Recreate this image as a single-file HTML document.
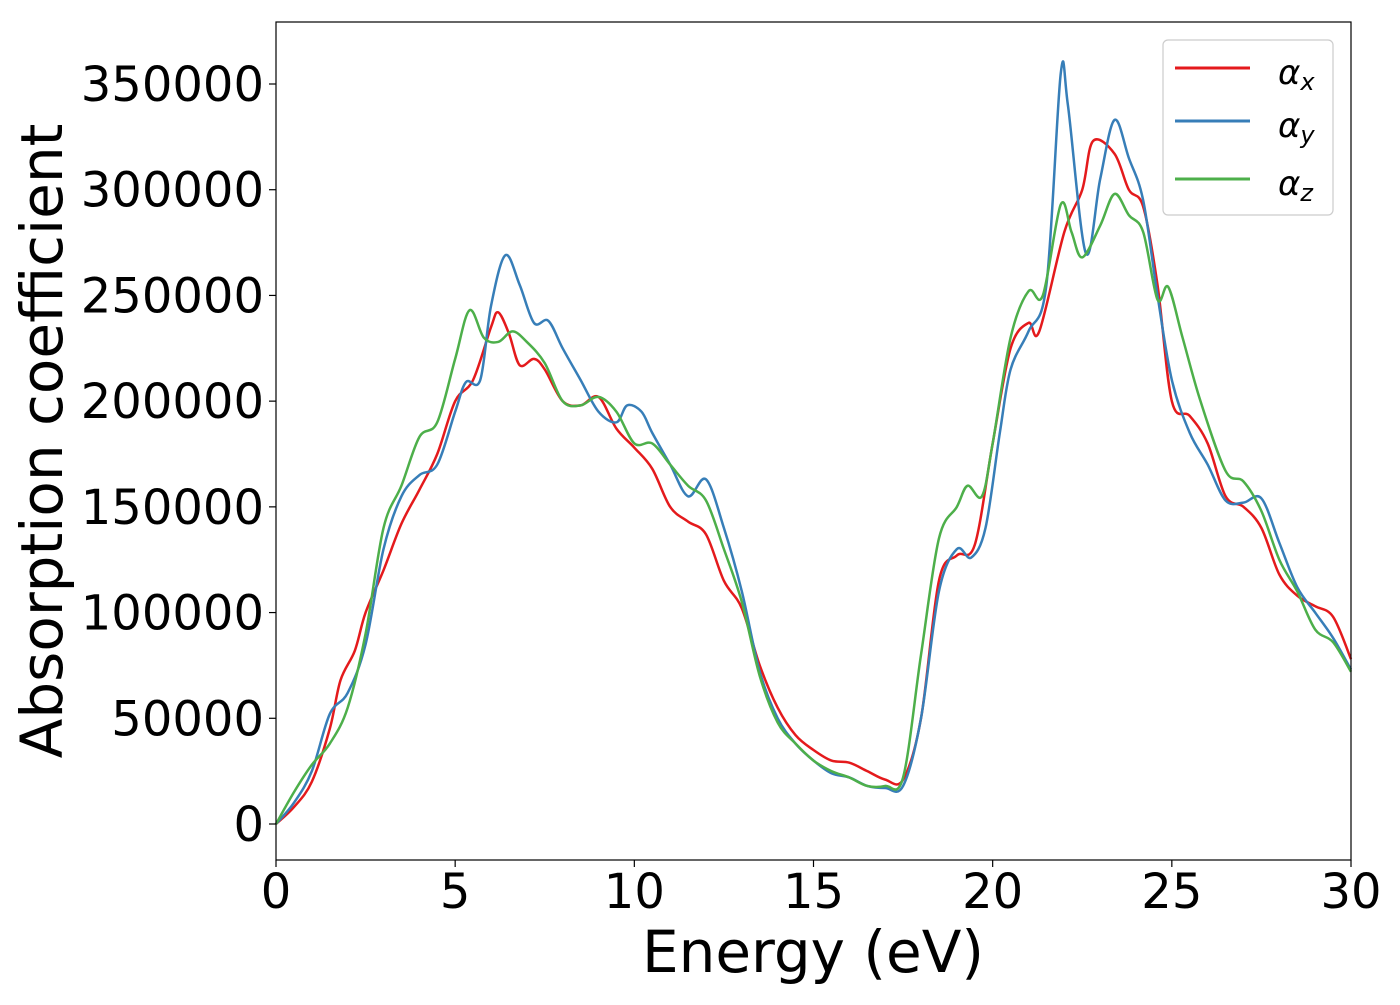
<!DOCTYPE html>
<html><head><meta charset="utf-8"><style>
body{margin:0;background:#fff;}
svg text{font-family:"DejaVu Sans","Liberation Sans",sans-serif;}
</style></head><body>
<svg id="chart" width="1400" height="1000" xmlns="http://www.w3.org/2000/svg">
<rect width="1400" height="1000" fill="#fff"/>
<g id="series"></g>
<g id="axes"></g>
<rect x="276" y="22" width="1075" height="838" fill="none" stroke="#000" stroke-width="1.2"/>
<g>
<rect x="1163" y="40" width="170" height="175" rx="5" fill="#fff" stroke="#ccc" stroke-width="1.2"/>
<line x1="1175" y1="68" x2="1250" y2="68" stroke="#e41a1c" stroke-width="3"/>
<line x1="1175" y1="121" x2="1250" y2="121" stroke="#377eb8" stroke-width="3"/>
<line x1="1175" y1="179" x2="1250" y2="179" stroke="#4daf4a" stroke-width="3"/>
<text x="1278" y="84" font-size="34" font-style="italic">α<tspan font-size="24" dy="6">x</tspan></text>
<text x="1278" y="137" font-size="34" font-style="italic">α<tspan font-size="24" dy="6">y</tspan></text>
<text x="1278" y="195" font-size="34" font-style="italic">α<tspan font-size="24" dy="6">z</tspan></text>
</g>
<text x="813" y="972" font-size="58" text-anchor="middle">Energy (eV)</text>
<text transform="translate(62,441) rotate(-90)" font-size="58" text-anchor="middle">Absorption coefficient</text>
</svg>
<script>
const xTicks=[0,5,10,15,20,25,30];
const yTicks=[0,50000,100000,150000,200000,250000,300000,350000];
const alphaX=[[0,0],[0.5,8000],[1,20000],[1.5,45000],[1.8,68000],[2.2,82000],[2.5,100000],[3,120000],[3.5,142000],[4,158000],[4.5,175000],[5,200000],[5.5,210000],[6,235000],[6.2,242000],[6.5,232000],[6.8,217000],[7.2,220000],[7.5,215000],[8,200000],[8.5,198000],[9,202000],[9.5,187000],[10,178000],[10.5,168000],[11,150000],[11.5,143000],[12,137000],[12.5,115000],[13,102000],[13.5,75000],[14,55000],[14.5,42000],[15,35000],[15.5,30000],[16,29000],[16.5,25000],[17,21000],[17.5,21000],[18,50000],[18.5,115000],[19,127000],[19.5,132000],[20,180000],[20.5,225000],[21,237000],[21.3,233000],[22,280000],[22.5,300000],[22.8,323000],[23.4,317000],[23.8,300000],[24.2,292000],[24.6,255000],[25,200000],[25.5,193000],[26,180000],[26.5,155000],[27,150000],[27.5,140000],[28,118000],[28.5,108000],[29,103000],[29.5,98000],[30,78000]];
const alphaY=[[0,0],[0.5,10000],[1,25000],[1.5,52000],[2,62000],[2.5,85000],[3,130000],[3.5,155000],[4,165000],[4.5,170000],[5,195000],[5.3,209000],[5.7,210000],[6,245000],[6.4,269000],[6.8,255000],[7.2,237000],[7.6,238000],[8,225000],[8.5,210000],[9,195000],[9.5,190000],[9.8,198000],[10.2,195000],[10.5,185000],[11,170000],[11.5,155000],[12,163000],[12.5,140000],[13,110000],[13.5,72000],[14,50000],[14.5,38000],[15,30000],[15.5,24000],[16,22000],[16.5,18000],[17,17000],[17.5,18000],[18,50000],[18.5,110000],[19,130000],[19.4,126000],[19.8,140000],[20.2,185000],[20.5,215000],[21,233000],[21.5,255000],[21.9,355000],[22.1,340000],[22.6,270000],[23,305000],[23.4,333000],[23.8,315000],[24.2,295000],[24.6,250000],[25,210000],[25.5,185000],[26,170000],[26.5,153000],[27,152000],[27.5,154000],[28,133000],[28.5,112000],[29,100000],[29.5,88000],[30,73000]];
const alphaZ=[[0,0],[0.5,15000],[1,28000],[1.5,38000],[2,55000],[2.5,90000],[3,140000],[3.5,160000],[4,183000],[4.5,190000],[5,220000],[5.4,243000],[5.8,230000],[6.2,228000],[6.6,233000],[7,228000],[7.5,218000],[8,200000],[8.5,198000],[9,202000],[9.5,195000],[10,180000],[10.5,180000],[11,170000],[11.5,160000],[12,153000],[12.5,130000],[13,105000],[13.5,70000],[14,48000],[14.5,38000],[15,30000],[15.5,25000],[16,22000],[16.5,18000],[17,18000],[17.5,22000],[18,80000],[18.5,135000],[19,150000],[19.3,160000],[19.7,155000],[20,180000],[20.5,230000],[21,252000],[21.4,250000],[21.9,293000],[22.2,280000],[22.5,268000],[23,283000],[23.4,298000],[23.8,288000],[24.2,280000],[24.6,248000],[24.9,254000],[25.3,230000],[25.8,200000],[26.5,167000],[27,162000],[27.5,148000],[28,125000],[28.5,110000],[29,92000],[29.5,86000],[30,72000]];

const NS="http://www.w3.org/2000/svg";
function xs(v){return 276+v*(1075/30);}
function ys(v){return 824-v*(740/350000);}
function pathFor(d){
  const p=d.map(a=>[xs(a[0]),ys(a[1])]);
  let s="M"+p[0][0]+","+p[0][1];
  for(let i=0;i<p.length-1;i++){
    const p0=p[i-1]||p[i],p1=p[i],p2=p[i+1],p3=p[i+2]||p2;
    const c1x=p1[0]+(p2[0]-p0[0])/6,c1y=p1[1]+(p2[1]-p0[1])/6;
    const c2x=p2[0]-(p3[0]-p1[0])/6,c2y=p2[1]-(p3[1]-p1[1])/6;
    s+=" C"+c1x+","+c1y+" "+c2x+","+c2y+" "+p2[0]+","+p2[1];
  }
  return s;
}
const sg=document.getElementById("series");
[[alphaX,"#e41a1c","series-alpha-x"],[alphaY,"#377eb8","series-alpha-y"],[alphaZ,"#4daf4a","series-alpha-z"]].forEach(s=>{
  const el=document.createElementNS(NS,"path");
  el.setAttribute("d",pathFor(s[0]));
  el.setAttribute("fill","none");
  el.setAttribute("stroke",s[1]);
  el.setAttribute("stroke-width","2.5");
  
  
  sg.appendChild(el);
});
const ag=document.getElementById("axes");
xTicks.forEach(t=>{
  const l=document.createElementNS(NS,"line");
  l.setAttribute("x1",xs(t));l.setAttribute("x2",xs(t));l.setAttribute("y1",860);l.setAttribute("y2",867);
  l.setAttribute("stroke","#000");l.setAttribute("stroke-width","1.2");
  
  
  ag.appendChild(l);
  const tx=document.createElementNS(NS,"text");
  tx.setAttribute("x",xs(t));tx.setAttribute("y",908);tx.setAttribute("font-size","48");tx.setAttribute("text-anchor","middle");
  tx.textContent=t;
  
  
  ag.appendChild(tx);
});
yTicks.forEach(t=>{
  const l=document.createElementNS(NS,"line");
  l.setAttribute("x1",269);l.setAttribute("x2",276);l.setAttribute("y1",ys(t));l.setAttribute("y2",ys(t));
  l.setAttribute("stroke","#000");l.setAttribute("stroke-width","1.2");
  
  
  ag.appendChild(l);
  const tx=document.createElementNS(NS,"text");
  tx.setAttribute("x",264);tx.setAttribute("y",ys(t)+17);tx.setAttribute("font-size","48");tx.setAttribute("text-anchor","end");
  tx.textContent=t;
  
  
  ag.appendChild(tx);
});
</script>
</body></html>
